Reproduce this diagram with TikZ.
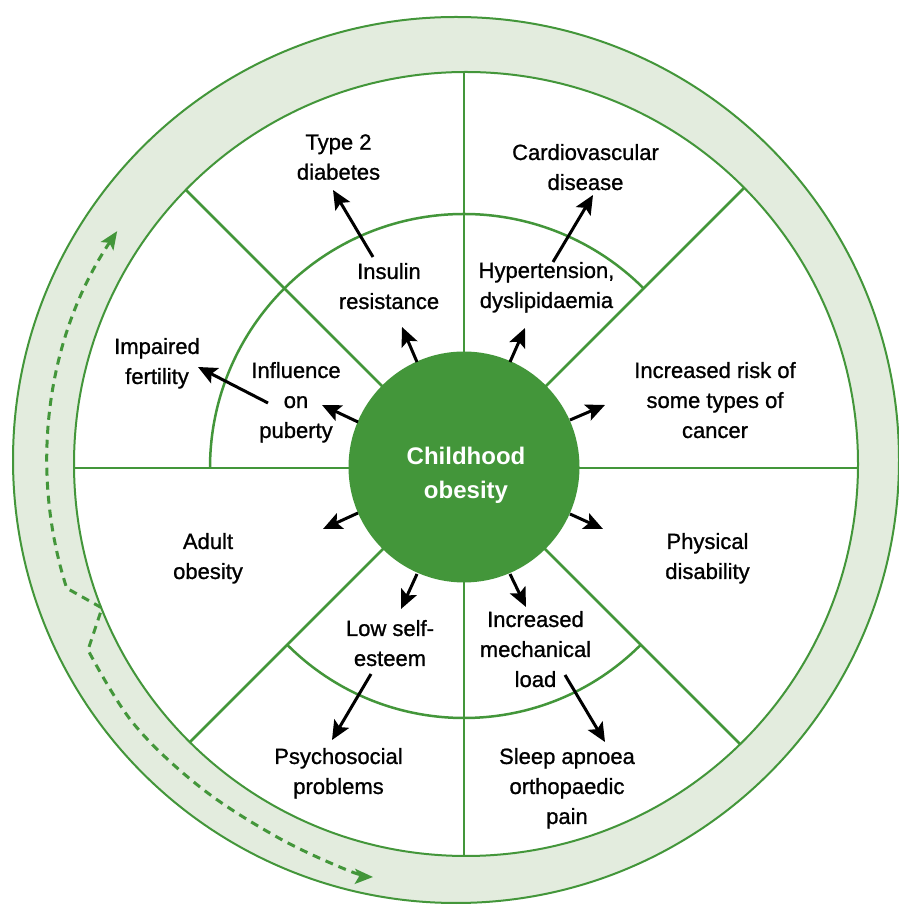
\documentclass[tikz,border=0pt]{standalone}
\usepackage{fontspec}
\setmainfont{Liberation Sans}
\newfontfamily\lblfont{Liberation Sans}[FakeBold=1.0]
\usetikzlibrary{arrows.meta,calc}
\definecolor{cgreen}{HTML}{43963A}
\definecolor{cpale}{HTML}{E3ECDE}
\begin{document}
\begin{tikzpicture}[x=1pt,y=1pt,
  lbl/.style={align=center, inner sep=0pt, font=\lblfont\fontsize{22}{30}\selectfont,
    execute at begin node=\strut, execute at end node=\strut},
  ctr/.style={align=center, inner sep=0pt, text=white, font=\fontsize{24}{34}\selectfont\bfseries,
    execute at begin node=\strut, execute at end node=\strut},
  ringline/.style={draw=cgreen, line width=2pt},
  spoke/.style={draw=cgreen, line width=2.5pt},
  arr/.style={line width=3pt, -{Stealth[length=19pt,width=17pt,inset=4pt]}},
  darr/.style={draw=cgreen, line width=3pt, dash pattern=on 8pt off 6pt,
    {Stealth[length=18pt,width=15pt,inset=4pt]}-{Stealth[length=18pt,width=15pt,inset=4pt]}}
]
\useasboundingbox (0,0) rectangle (899,905);
% ring
\coordinate (C) at (464,437);
\coordinate (Co) at (456,445);
\coordinate (Ci) at (466,441);
\fill[cpale] (Co) circle[radius=443];
\fill[white] (Ci) circle[radius=392];
\draw[ringline] (Co) circle[radius=443];
\draw[ringline] (Ci) circle[radius=392];
% spokes
\foreach \a/\r in {0/394,45/396.2,90/396,135/393.4,180/390,225/387.8,270/388,315/390.6}
  \draw[spoke] ($(C)+(\a:110)$) -- ($(C)+(\a:\r)$);
% middle arcs
\draw[spoke] ($(C)+(180:254)$) arc[start angle=180, end angle=45, radius=254];
\draw[spoke] ($(C)+(225:250)$) arc[start angle=225, end angle=315, radius=250];
% centre
\node[circle, fill=cgreen, minimum size=231pt, inner sep=0pt] (core) at (464,438) {};
\node[ctr] (coretext) at (466,427) {Childhood\\obesity};
% labels
\node[lbl] (t2d) at (338.5,743.5) {Type 2\\diabetes};
\node[lbl] (ins) at (389,614.5) {Insulin\\resistance};
\node[lbl] (inf) at (296,500.5) {Influence\\on\\puberty};
\node[lbl] (imp) at (157,539.5) {Impaired\\fertility};
\node[lbl] (cvd) at (585.5,733.5) {Cardiovascular\\disease};
\node[lbl] (hyp) at (546.5,615.5) {Hypertension,\\dyslipidaemia};
\node[lbl] (can) at (715,500.5) {Increased risk of\\some types of\\cancer};
\node[lbl] (adu) at (208,344.5) {Adult\\obesity};
\node[lbl] (phy) at (707.5,344.5) {Physical\\disability};
\node[lbl] (low) at (390,257.5) {Low self-\\esteem};
\node[lbl] (psy) at (338.5,129.5) {Psychosocial\\problems};
\node[lbl] (mec) at (535.5,251.5) {Increased\\mechanical\\load};
\node[lbl] (sle) at (567,114.5) {Sleep apnoea\\orthopaedic\\pain};
% arrow end points
\coordinate (s1) at (417,543); \coordinate (e1) at (402,578);
\coordinate (s2) at (510,543); \coordinate (e2) at (525,577);
\coordinate (s3) at (358,483); \coordinate (e3) at (322,500);
\coordinate (s4) at (570,485); \coordinate (e4) at (605,500);
\coordinate (s5) at (358,392); \coordinate (e5) at (323,376);
\coordinate (s6) at (570,391); \coordinate (e6) at (603,376);
\coordinate (s7) at (417,331); \coordinate (e7) at (401,296);
\coordinate (s8) at (510,331); \coordinate (e8) at (526,298);
\coordinate (s9) at (373,648); \coordinate (e9) at (333,715);
\coordinate (s10) at (553,643); \coordinate (e10) at (593,710);
\coordinate (s11) at (268,502); \coordinate (e11) at (198,538);
\coordinate (s12) at (371,231); \coordinate (e12) at (332,165);
\coordinate (s13) at (565,230); \coordinate (e13) at (605,163);
\foreach \i in {1,...,13} \draw[arr] (s\i) -- (e\i);
% dashed cycle arrow
\coordinate (dk1) at (102,297);
\coordinate (dk2) at (88,255);
\draw[darr] ($(462,443)+(146.2:415)$) arc[start angle=146.2, end angle=197.7, radius=415]
  -- (dk1) -- (dk2)
  -- plot[smooth, tension=0.6] coordinates {(88,255) (133,182) (200,118) (277,68) (347,35) (373,28)};
\end{tikzpicture}
\end{document}
